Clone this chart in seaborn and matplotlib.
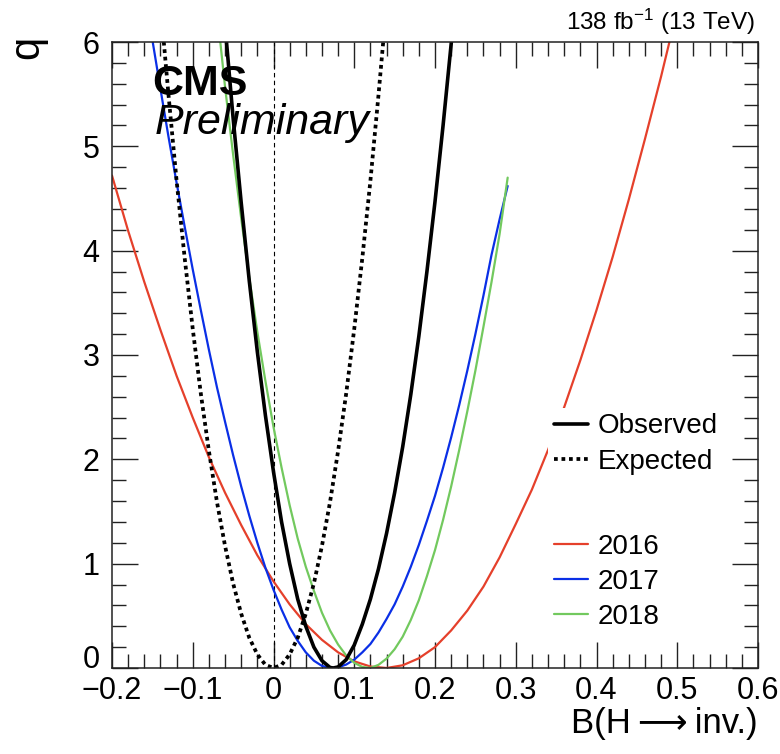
import numpy as np
import pandas as pd
import matplotlib
matplotlib.use("Agg")
import matplotlib.pyplot as plt
from matplotlib.ticker import MultipleLocator, FuncFormatter
from matplotlib.lines import Line2D
import seaborn as sns

# Profile likelihood scans, q versus B(H -> inv.)
b_exp = [-0.14, -0.13, -0.12, -0.11, -0.10, -0.09, -0.08, -0.07, -0.06, -0.05,
         -0.04, -0.03, -0.02, -0.01, 0.00, 0.01, 0.02, 0.03, 0.04, 0.05,
         0.06, 0.07, 0.08, 0.09, 0.10, 0.11, 0.12, 0.13, 0.14]
q_exp = [6.36, 5.49, 4.67, 3.93, 3.25, 2.63, 2.08, 1.59, 1.17, 0.81,
         0.52, 0.29, 0.13, 0.03, 0.00, 0.03, 0.13, 0.29, 0.52, 0.81,
         1.17, 1.59, 2.08, 2.63, 3.25, 3.93, 4.67, 5.49, 6.36]

b_obs = [-0.07, -0.06, -0.05, -0.04, -0.03, -0.02, -0.01, 0.00, 0.01, 0.02,
         0.03, 0.04, 0.05, 0.06, 0.07, 0.074, 0.08, 0.09, 0.10, 0.11,
         0.12, 0.13, 0.14, 0.15, 0.16, 0.17, 0.18, 0.19, 0.20, 0.21,
         0.22, 0.23]
q_obs = [7.11, 6.16, 5.27, 4.46, 3.71, 3.03, 2.42, 1.88, 1.40, 1.00,
         0.66, 0.40, 0.20, 0.07, 0.005, 0.00, 0.01, 0.08, 0.22, 0.42,
         0.66, 0.95, 1.29, 1.68, 2.12, 2.62, 3.18, 3.80, 4.47, 5.20,
         5.98, 6.80]

b_2016 = [-0.20, -0.18, -0.16, -0.14, -0.12, -0.10, -0.08, -0.06, -0.04, -0.02,
          0.00, 0.02, 0.04, 0.06, 0.08, 0.10, 0.12, 0.14, 0.16, 0.18,
          0.20, 0.22, 0.24, 0.26, 0.28, 0.30, 0.32, 0.34, 0.36, 0.38,
          0.40, 0.42, 0.44, 0.46, 0.48, 0.50]
q_2016 = [4.72, 4.19, 3.70, 3.24, 2.80, 2.40, 2.02, 1.68, 1.37, 1.08,
          0.83, 0.61, 0.42, 0.27, 0.15, 0.064, 0.014, 0.00, 0.026, 0.093,
          0.20, 0.36, 0.55, 0.78, 1.06, 1.38, 1.71, 2.09, 2.50, 2.95,
          3.43, 3.94, 4.49, 5.07, 5.67, 6.31]

b_2017 = [-0.16, -0.15, -0.14, -0.13, -0.12, -0.11, -0.10, -0.09, -0.08, -0.07,
          -0.06, -0.05, -0.04, -0.03, -0.02, -0.01, 0.00, 0.01, 0.02, 0.03,
          0.04, 0.05, 0.06, 0.07, 0.08, 0.09, 0.10, 0.11, 0.12, 0.13,
          0.14, 0.15, 0.16, 0.17, 0.18, 0.19, 0.20, 0.21, 0.22, 0.23,
          0.24, 0.25, 0.26, 0.27, 0.28, 0.29]
q_2017 = [6.50, 6.02, 5.55, 5.09, 4.65, 4.23, 3.82, 3.43, 3.05, 2.69,
          2.36, 2.04, 1.74, 1.46, 1.20, 0.96, 0.75, 0.56, 0.39, 0.26,
          0.15, 0.07, 0.02, 0.00, 0.006, 0.033, 0.08, 0.15, 0.23, 0.34,
          0.47, 0.61, 0.78, 0.97, 1.18, 1.41, 1.65, 1.92, 2.21, 2.52,
          2.85, 3.20, 3.57, 3.96, 4.30, 4.62]

b_2018 = [-0.07, -0.06, -0.05, -0.04, -0.03, -0.02, -0.01, 0.00, 0.01, 0.02,
          0.03, 0.04, 0.05, 0.06, 0.07, 0.08, 0.09, 0.10, 0.11, 0.12,
          0.13, 0.14, 0.15, 0.16, 0.17, 0.18, 0.19, 0.20, 0.21, 0.22,
          0.23, 0.24, 0.25, 0.26, 0.27, 0.28, 0.29]
q_2018 = [6.30, 5.57, 4.92, 4.31, 3.74, 3.22, 2.75, 2.31, 1.92, 1.56,
          1.24, 0.97, 0.74, 0.53, 0.36, 0.225, 0.12, 0.05, 0.01, 0.00,
          0.03, 0.09, 0.18, 0.30, 0.46, 0.65, 0.88, 1.13, 1.42, 1.74,
          2.09, 2.46, 2.85, 3.27, 3.70, 4.16, 4.70]

year_labels = ["2016", "2017", "2018"]
year_colors = ["#e5402b", "#0a2fe6", "#72c95e"]

sns.set_theme(style="ticks")
plt.rcParams["font.family"] = ["Liberation Sans", "DejaVu Sans"]
plt.rcParams["mathtext.fontset"] = "custom"
plt.rcParams["mathtext.rm"] = "Liberation Sans"
plt.rcParams["mathtext.it"] = "Liberation Sans:italic"
for key in ("text.color", "axes.labelcolor", "xtick.color", "ytick.color",
            "axes.edgecolor"):
    plt.rcParams[key] = "black"

fig = plt.figure(figsize=(7.8, 7.54), dpi=100)
ax = fig.add_axes([112 / 780, 1 - 668 / 754, 646 / 780, 626 / 754])

def scan(b, q, name):
    return pd.DataFrame({"B": b, "q": q, "curve": name})

frames = {
    "2016": scan(b_2016, q_2016, "2016"),
    "2017": scan(b_2017, q_2017, "2017"),
    "2018": scan(b_2018, q_2018, "2018"),
}
for lab, col in zip(year_labels, year_colors):
    sns.lineplot(data=frames[lab], x="B", y="q", color=col, lw=1.6,
                 estimator=None, sort=False, ax=ax, legend=False)

sns.lineplot(data=scan(b_exp, q_exp, "Expected"), x="B", y="q", color="black",
             lw=2.7, linestyle=(0, (1.0, 1.0)), estimator=None, sort=False,
             ax=ax, legend=False)
sns.lineplot(data=scan(b_obs, q_obs, "Observed"), x="B", y="q", color="black",
             lw=2.6, estimator=None, sort=False, ax=ax, legend=False)

# reference line at zero
ax.plot([0, 0], [0, 6], color="black", lw=0.8, linestyle=(0, (4, 3)), zorder=1)

ax.set_xlim(-0.2, 0.6)
ax.set_ylim(0, 6)
ax.xaxis.set_major_locator(MultipleLocator(0.1))
ax.xaxis.set_minor_locator(MultipleLocator(0.02))
ax.yaxis.set_major_locator(MultipleLocator(1))
ax.yaxis.set_minor_locator(MultipleLocator(0.2))

def fmt(v, pos):
    s = f"{v:.1f}".rstrip("0").rstrip(".")
    if s in ("-0", "0"):
        return "0"
    return s.replace("-", "\u2212")

ax.xaxis.set_major_formatter(FuncFormatter(fmt))
ax.yaxis.set_major_formatter(FuncFormatter(lambda v, p: f"{int(round(v))}"))

ax.tick_params(which="both", direction="in", top=True, right=True,
               color="#222222", width=1.0)
ax.tick_params(which="major", length=19, labelsize=22)
ax.tick_params(which="minor", length=10)
ax.tick_params(axis="x", which="major", pad=6)
ax.tick_params(axis="y", which="major", pad=9)
for sp in ax.spines.values():
    sp.set_color("#222222")
    sp.set_linewidth(1.1)

ax.set_xlabel("B(H\u2009\u27f6\u2009inv.)", fontsize=25, loc="right")
ax.xaxis.set_label_coords(1.0, -0.062)
ax.set_ylabel("q", fontsize=30, loc="top")
ax.yaxis.set_label_coords(-0.100, 1.01)

ax.text(0.062, 0.915, "CMS", transform=ax.transAxes, fontsize=31,
        fontweight="bold", va="baseline", ha="left")
ax.text(0.066, 0.853, "Preliminary", transform=ax.transAxes, fontsize=31,
        style="italic", va="baseline", ha="left")
ax.text(0.996, 1.019, "138 fb$^{-1}$ (13 TeV)", transform=ax.transAxes,
        fontsize=17.5, va="baseline", ha="right")

# legends
h_years = [Line2D([], [], color=c, lw=1.6) for c in year_colors]
leg2 = ax.legend(h_years, year_labels, loc="center left",
                 bbox_to_anchor=(548 / 780, 1 - 582 / 754),
                 bbox_transform=fig.transFigure, fontsize=20,
                 frameon=False, handlelength=1.25, handletextpad=0.35,
                 labelspacing=0.33, borderpad=0.2, borderaxespad=0)

h_type = [Line2D([], [], color="black", lw=2.6),
          Line2D([], [], color="black", lw=2.7, linestyle=(0, (1.0, 1.0)))]
leg1 = ax.legend(h_type, ["Observed", "Expected"], loc="center left",
                 bbox_to_anchor=(548 / 780, 1 - 444 / 754),
                 bbox_transform=fig.transFigure, fontsize=20,
                 frameon=True, facecolor="white", edgecolor="none",
                 framealpha=1.0, fancybox=False, handlelength=1.25,
                 handletextpad=0.35, labelspacing=0.33, borderpad=0.2,
                 borderaxespad=0)
ax.add_artist(leg2)

# sit the y-axis zero label on the axis so it stays clear of the x labels
fig.canvas.draw()
for t in ax.get_yticklabels():
    if t.get_text() == "0":
        t.set_va("baseline")

fig.savefig("out.png", dpi=100, facecolor="white")
